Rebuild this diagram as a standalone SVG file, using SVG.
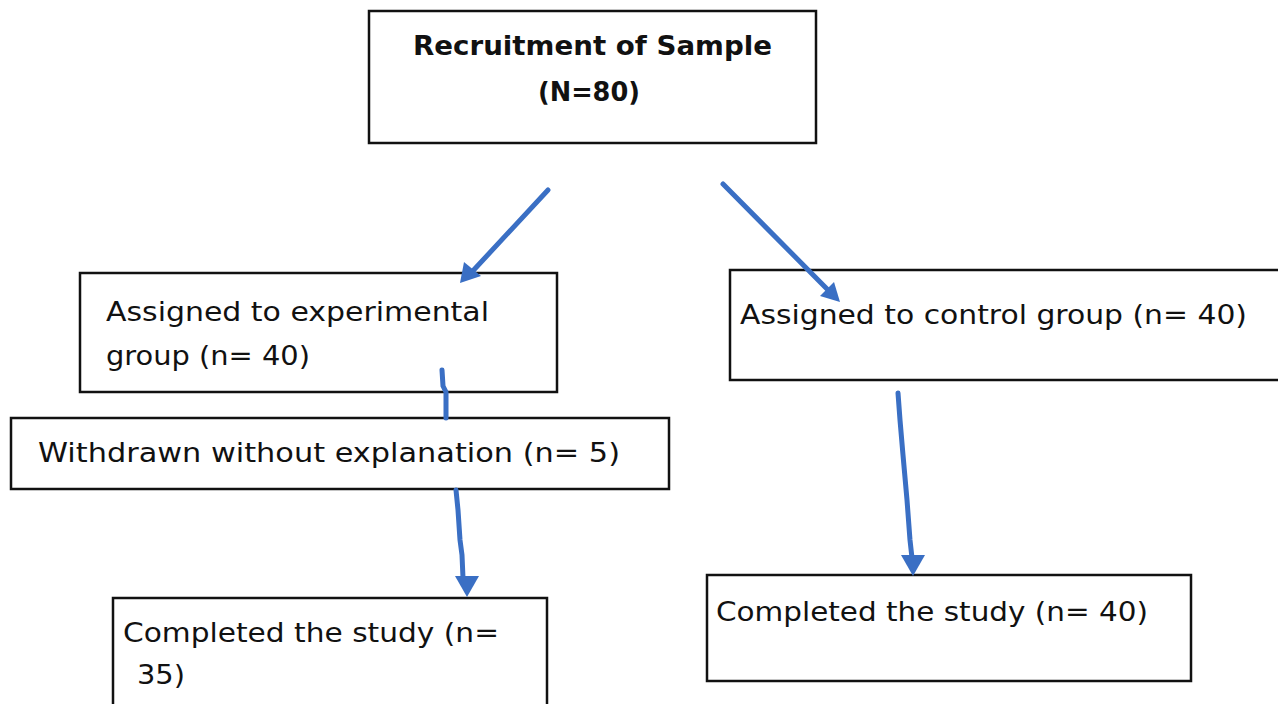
<svg xmlns="http://www.w3.org/2000/svg" width="1278" height="704" viewBox="0 0 1278 704">
<style>
.box{fill:#fff;stroke:#111;stroke-width:2.5}
.t{font-family:"DejaVu Sans","Liberation Sans",sans-serif;font-size:26px;fill:#111}
.b{font-weight:bold;font-size:27px}
.ln{fill:none;stroke:#3a6fc4;stroke-width:5;stroke-linecap:round;stroke-linejoin:round}
.hd{fill:#3a6fc4}
</style>
<rect width="1278" height="704" fill="#fff"/>
<g id="n-recruit">
<rect class="box" x="369" y="11" width="447" height="132"/>
<text class="t b" x="413" y="55" textLength="359" lengthAdjust="spacingAndGlyphs">Recruitment of Sample</text>
<text class="t b" x="538" y="101" textLength="102" lengthAdjust="spacingAndGlyphs">(N=80)</text>
</g>
<g id="n-exp">
<rect class="box" x="80" y="273" width="477" height="119"/>
<text class="t" x="106" y="321" textLength="383" lengthAdjust="spacingAndGlyphs">Assigned to experimental</text>
<text class="t" x="106" y="365" textLength="204" lengthAdjust="spacingAndGlyphs">group (n= 40)</text>
</g>
<g id="n-ctrl">
<rect class="box" x="730" y="270" width="560" height="110"/>
<text class="t" x="740" y="324" textLength="507" lengthAdjust="spacingAndGlyphs">Assigned to control group (n= 40)</text>
</g>
<g id="n-withdrawn">
<rect class="box" x="11" y="418" width="658" height="71"/>
<text class="t" x="38" y="462" textLength="582" lengthAdjust="spacingAndGlyphs">Withdrawn without explanation (n= 5)</text>
</g>
<g id="n-done-exp">
<rect class="box" x="113" y="598" width="434" height="120"/>
<text class="t" x="123" y="642" textLength="376" lengthAdjust="spacingAndGlyphs">Completed the study (n=</text>
<text class="t" x="137" y="684" textLength="48" lengthAdjust="spacingAndGlyphs">35)</text>
</g>
<g id="n-done-ctrl">
<rect class="box" x="707" y="575" width="484" height="106"/>
<text class="t" x="716" y="621" textLength="432" lengthAdjust="spacingAndGlyphs">Completed the study (n= 40)</text>
</g>
<g id="connectors">
<path class="ln" d="M548,190 L470,274"/>
<polygon class="hd" points="460,283 464,262 481,276"/>
<path class="ln" d="M723,184 L830,292"/>
<polygon class="hd" points="840,302 820,296 834,282"/>
<path class="ln" d="M442,370 L443,386 L446,392 L446,418"/>
<path class="ln" d="M456,490 L458,510 L460,540 L462,555 L463,578"/>
<polygon class="hd" points="467,597 455,576 479,576"/>
<path class="ln" d="M898,393 L900,420 L903,455 L907,500 L910,540 L912,558"/>
<polygon class="hd" points="913,576 901,555 925,555"/>
</g>
</svg>
